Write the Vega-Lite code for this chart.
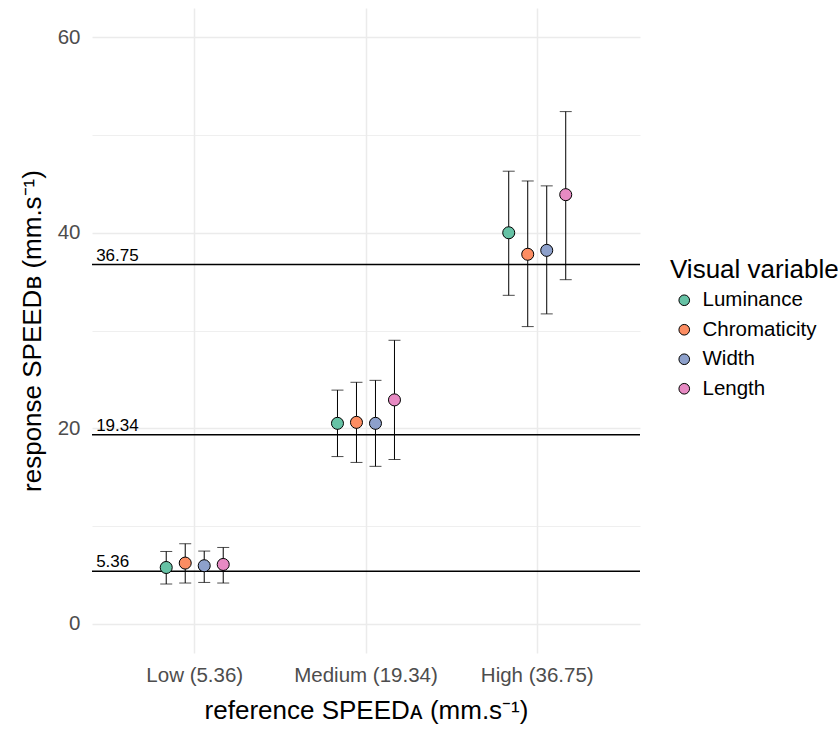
{
  "$schema": "https://vega.github.io/schema/vega-lite/v6.json",
  "width": 548,
  "height": 645,
  "autosize": {"type": "none"},
  "padding": {"left": 92, "top": 8, "right": 198, "bottom": 78},
  "background": "white",
  "config": {
    "font": "Liberation Sans",
    "view": {"stroke": null},
    "axis": {"labelFont": "Liberation Sans", "titleFont": "Liberation Sans"},
    "legend": {"labelFont": "Liberation Sans", "titleFont": "Liberation Sans"}
  },
  "datasets": {
    "main": [
      {"speed": "Low (5.36)", "variable": "Luminance", "mean": 5.75, "lo": 4.06, "hi": 7.39},
      {"speed": "Low (5.36)", "variable": "Chromaticity", "mean": 6.2, "lo": 4.16, "hi": 8.18},
      {"speed": "Low (5.36)", "variable": "Width", "mean": 5.93, "lo": 4.22, "hi": 7.43},
      {"speed": "Low (5.36)", "variable": "Length", "mean": 6.06, "lo": 4.16, "hi": 7.8},
      {"speed": "Medium (19.34)", "variable": "Luminance", "mean": 20.5, "lo": 17.1, "hi": 23.9},
      {"speed": "Medium (19.34)", "variable": "Chromaticity", "mean": 20.6, "lo": 16.5, "hi": 24.7},
      {"speed": "Medium (19.34)", "variable": "Width", "mean": 20.5, "lo": 16.1, "hi": 24.9},
      {"speed": "Medium (19.34)", "variable": "Length", "mean": 22.9, "lo": 16.8, "hi": 29.0},
      {"speed": "High (36.75)", "variable": "Luminance", "mean": 40.0, "lo": 33.6, "hi": 46.3},
      {"speed": "High (36.75)", "variable": "Chromaticity", "mean": 37.8, "lo": 30.4, "hi": 45.3},
      {"speed": "High (36.75)", "variable": "Width", "mean": 38.2, "lo": 31.7, "hi": 44.8},
      {"speed": "High (36.75)", "variable": "Length", "mean": 43.9, "lo": 35.2, "hi": 52.4}
    ],
    "refs": [
      {"ref": 5.36, "label": "5.36"},
      {"ref": 19.34, "label": "19.34"},
      {"ref": 36.75, "label": "36.75"}
    ]
  },
  "encoding": {
    "x": {
      "field": "speed",
      "type": "nominal",
      "scale": {"domain": ["Low (5.36)", "Medium (19.34)", "High (36.75)"], "paddingInner": 0, "paddingOuter": 0.1},
      "axis": {
        "title": "reference SPEEDᴀ (mm.s⁻¹)",
        "labelAngle": 0,
        "labelFontSize": 20.5,
        "labelColor": "#4D4D4D",
        "labelPadding": 12,
        "titleFontSize": 26,
        "titleFontWeight": "normal",
        "titleColor": "black",
        "titlePadding": 12,
        "ticks": false,
        "domain": false,
        "grid": true,
        "bandPosition": 0.5,
        "gridColor": "#EBEBEB",
        "gridWidth": 1.5
      }
    },
    "y": {
      "type": "quantitative",
      "scale": {"domain": [-3, 63], "nice": false, "zero": false},
      "axis": {
        "title": "response SPEEDʙ (mm.s⁻¹)",
        "values": [0, 10, 20, 30, 40, 50, 60],
        "labelExpr": "datum.value % 20 === 0 ? datum.label : ''",
        "labelFontSize": 20.5,
        "labelColor": "#4D4D4D",
        "labelPadding": 12,
        "titleFontSize": 26,
        "titleFontWeight": "normal",
        "titleColor": "black",
        "titlePadding": 12,
        "ticks": false,
        "domain": false,
        "grid": true,
        "gridColor": "#EBEBEB",
        "gridWidth": {"condition": {"test": "datum.value % 20 === 0", "value": 1.5}, "value": 0.8}
      }
    }
  },
  "layer": [
    {
      "data": {"name": "refs"},
      "mark": {"type": "rule", "color": "black", "strokeWidth": 1.6},
      "encoding": {
        "x": null,
        "y": {"field": "ref", "type": "quantitative"}
      }
    },
    {
      "data": {"name": "refs"},
      "mark": {"type": "text", "align": "left", "baseline": "alphabetic", "dx": -13, "dy": -4, "fontSize": 17, "color": "black"},
      "encoding": {
        "x": {"datum": "Low (5.36)", "type": "nominal", "bandPosition": 0},
        "y": {"field": "ref", "type": "quantitative"},
        "text": {"field": "label"}
      }
    },
    {
      "data": {"name": "main"},
      "mark": {"type": "rule", "color": "black", "strokeWidth": 1},
      "encoding": {
        "xOffset": {"field": "variable", "type": "nominal", "scale": {"domain": ["Luminance", "Chromaticity", "Width", "Length"], "paddingInner": 0, "paddingOuter": 0, "range": [47.6, 123.6]}},
        "y": {"field": "lo", "type": "quantitative"},
        "y2": {"field": "hi"}
      }
    },
    {
      "data": {"name": "main"},
      "mark": {"type": "tick", "color": "black", "size": 12, "thickness": 1, "orient": "horizontal"},
      "encoding": {
        "xOffset": {"field": "variable", "type": "nominal", "scale": {"domain": ["Luminance", "Chromaticity", "Width", "Length"], "paddingInner": 0, "paddingOuter": 0, "range": [47.6, 123.6]}},
        "y": {"field": "lo", "type": "quantitative"}
      }
    },
    {
      "data": {"name": "main"},
      "mark": {"type": "tick", "color": "black", "size": 12, "thickness": 1, "orient": "horizontal"},
      "encoding": {
        "xOffset": {"field": "variable", "type": "nominal", "scale": {"domain": ["Luminance", "Chromaticity", "Width", "Length"], "paddingInner": 0, "paddingOuter": 0, "range": [47.6, 123.6]}},
        "y": {"field": "hi", "type": "quantitative"}
      }
    },
    {
      "data": {"name": "main"},
      "mark": {"type": "point", "filled": true, "stroke": "black", "strokeWidth": 1, "size": 145, "opacity": 1},
      "encoding": {
        "xOffset": {"field": "variable", "type": "nominal", "scale": {"domain": ["Luminance", "Chromaticity", "Width", "Length"], "paddingInner": 0, "paddingOuter": 0, "range": [47.6, 123.6]}},
        "y": {"field": "mean", "type": "quantitative"},
        "fill": {
          "field": "variable",
          "type": "nominal",
          "scale": {"domain": ["Luminance", "Chromaticity", "Width", "Length"], "range": ["#66C2A5", "#FC8D62", "#8DA0CB", "#E78AC3"]},
          "legend": {
            "title": "Visual variable",
            "orient": "none",
            "legendX": 578,
            "legendY": 249,
            "padding": 0,
            "titleFontSize": 26,
            "titleFontWeight": "normal",
            "titleColor": "black",
            "titlePadding": 7,
            "labelFontSize": 20.5,
            "labelColor": "black",
            "labelOffset": 8,
            "symbolType": "circle",
            "symbolSize": 113,
            "symbolStrokeColor": "black",
            "symbolStrokeWidth": 1,
            "symbolOffset": 4,
            "rowPadding": 8.5
          }
        }
      }
    }
  ]
}
